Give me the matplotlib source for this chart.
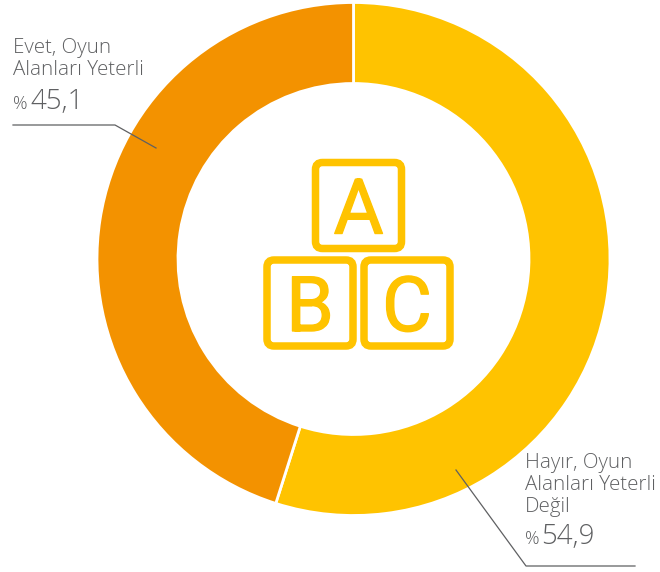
import matplotlib
matplotlib.use("Agg")
import matplotlib.pyplot as plt
import matplotlib.patheffects as pe
from matplotlib.patches import FancyBboxPatch

categories = ["Hayır, Oyun Alanları Yeterli Değil", "Evet, Oyun Alanları Yeterli"]
values = [54.9, 45.1]
colors = ["#FFC300", "#F39200"]
blocks = ["A", "B", "C"]

W, H = 660, 572
GRAY = "#5F6062"
plt.rcParams["font.family"] = ["Open Sans", "DejaVu Sans"]
fig = plt.figure(figsize=(W / 100, H / 100), dpi=100)
ax = fig.add_axes([0, 0, 1, 1])
ax.set_xlim(0, W)
ax.set_ylim(0, H)
ax.axis("off")

def Y(y):
    return H - y

ax.pie(values, colors=colors, startangle=90, counterclock=False, center=(353.5, Y(259)),
       radius=256.5, frame=False,
       wedgeprops=dict(width=81, edgecolor="white", linewidth=2))
ax.set_xlim(0, W)
ax.set_ylim(0, H)
ax.set_aspect("auto")

# alphabet blocks
boxes = {"A": (315.5, 162.5, 86, 86), "B": (267, 260, 86, 86), "C": (364, 260, 86, 86)}
for name in blocks:
    x, y, w, h = boxes[name]
    r = 7
    ax.add_patch(FancyBboxPatch((x + r, Y(y + h) + r), w - 2 * r, h - 2 * r,
                                boxstyle=f"round,pad={r},rounding_size={r}",
                                fc="white", ec=colors[0], lw=5.4, zorder=3))
    t = ax.text(x + w / 2, Y(y + 71), name, color=colors[0], fontsize=55, family="Roboto",
                fontweight="regular", ha="center", va="baseline", zorder=4)
    t.set_path_effects([pe.withStroke(linewidth=1.0, foreground=colors[0])])

def label(x, y, text, fs=14.8, **kw):
    ax.text(x, Y(y), text, color=GRAY, fontsize=fs, fontweight="light", ha="left", va="baseline", **kw)

label(13, 53, "Evet, Oyun")
label(13, 75, "Alanları Yeterli")
label(13, 109, "%", fs=13)
label(30, 109, "45,1", fs=20)

label(525, 468, "Hayır, Oyun")
label(525, 490, "Alanları Yeterli")
label(525, 512, "Değil")
label(525, 544, "%", fs=13)
label(541, 544, "54,9", fs=20)

ax.plot([13, 115, 156], [Y(125), Y(125), Y(148)], color=GRAY, lw=0.9, zorder=5)
ax.plot([456, 526, 635], [Y(470), Y(566), Y(566)], color=GRAY, lw=0.9, zorder=5)

fig.savefig("out.png", dpi=100, facecolor="white")
